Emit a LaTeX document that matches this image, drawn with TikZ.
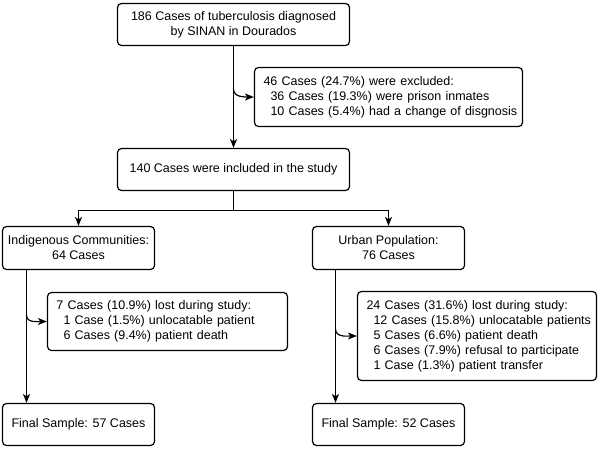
\documentclass[tikz,border=0pt]{standalone}
\usepackage{fontspec}
\setmainfont{Liberation Sans}
\usetikzlibrary{arrows.meta}
\newcommand{\firstline}{\hspace*{5pt}}
\newcommand{\subline}{\hspace*{12pt}}

\begin{document}
\begin{tikzpicture}[x=1pt, y=1pt, ->, >={Stealth[length=9pt,width=7pt,inset=2.5pt]}, line width=1.2pt,
                    font=\fontsize{12.5}{15}\selectfont]
        \tikzset{
           box/.style={
                        rectangle,
                        rounded corners=4pt,
                        draw=black,
                        fill=none,
                        text=black,
                        align=center,
                        inner sep=0pt
                       },
           note/.style={
                        box,
                        align=left,
                        inner xsep=4pt,
                        text width=#1
                       },
                 };
    \useasboundingbox (0,0) rectangle (600,-448);
    %--------------------
        \node[box, minimum width=232pt, minimum height=42pt] (total) at (233.5,-24.5)
             {186 Cases of tuberculosis diagnosed\\by SINAN in Dourados};
        \node[note=260pt, minimum height=59pt] (excluded) at (388.5,-97)
             {\firstline 46 Cases (24.7\%) were excluded:\\
              \subline 36 Cases (19.3\%) were prison inmates\\
              \subline 10 Cases (5.4\%) had a change of disgnosis};
        \node[box, minimum width=232pt, minimum height=42pt] (included) at (233.5,-169.5)
             {140 Cases were included in the study};

        \node[box, minimum width=152pt, minimum height=43pt] (indigenous) at (78.5,-248)
             {Indigenous Communities:\\64 Cases};
        \node[note=232pt, minimum height=58pt] (lostIndig) at (167.5,-321.5)
             {\firstline 7 Cases (10.9\%) lost during study:\\
              \subline 1 Case (1.5\%) unlocatable patient\\
              \subline 6 Cases (9.4\%) patient death};
        \node[box, minimum width=152pt, minimum height=42pt] (finalIndig) at (78.5,-424.5)
             {Final Sample: 57 Cases};

        \node[box, minimum width=152pt, minimum height=43pt] (urban) at (388.5,-248)
             {Urban Population:\\76 Cases};
        \node[note=231pt, minimum height=89pt] (lostUrban) at (477,-336)
             {\firstline 24 Cases (31.6\%) lost during study:\\
              \subline 12 Cases (15.8\%) unlocatable patients\\
              \subline 5 Cases (6.6\%) patient death\\
              \subline 6 Cases (7.9\%) refusal to participate\\
              \subline 1 Case (1.3\%) patient transfer};
        \node[box, minimum width=152pt, minimum height=42pt] (finalUrban) at (388.5,-424.5)
             {Final Sample: 52 Cases};

        \coordinate (splitTop)   at (233.5,-89);
        \coordinate (splitIndig) at (26.5,-315);
        \coordinate (splitUrban) at (335.5,-329);
    %--------------------
        \draw (total) -- (included);
        \draw (splitTop) to[out=-90, in=180] (excluded.west);

        \draw (included.south) -- ++(0,-19) -| (indigenous.north);
        \draw (included.south) -- ++(0,-19) -| (urban.north);

        \draw (splitIndig |- indigenous.south) -- (splitIndig |- finalIndig.north);
        \draw (splitIndig) to[out=-90, in=180] (lostIndig.west);

        \draw (splitUrban |- urban.south) -- (splitUrban |- finalUrban.north);
        \draw (splitUrban) to[out=-90, in=180] (lostUrban.west);
    \end{tikzpicture}
\end{document}
